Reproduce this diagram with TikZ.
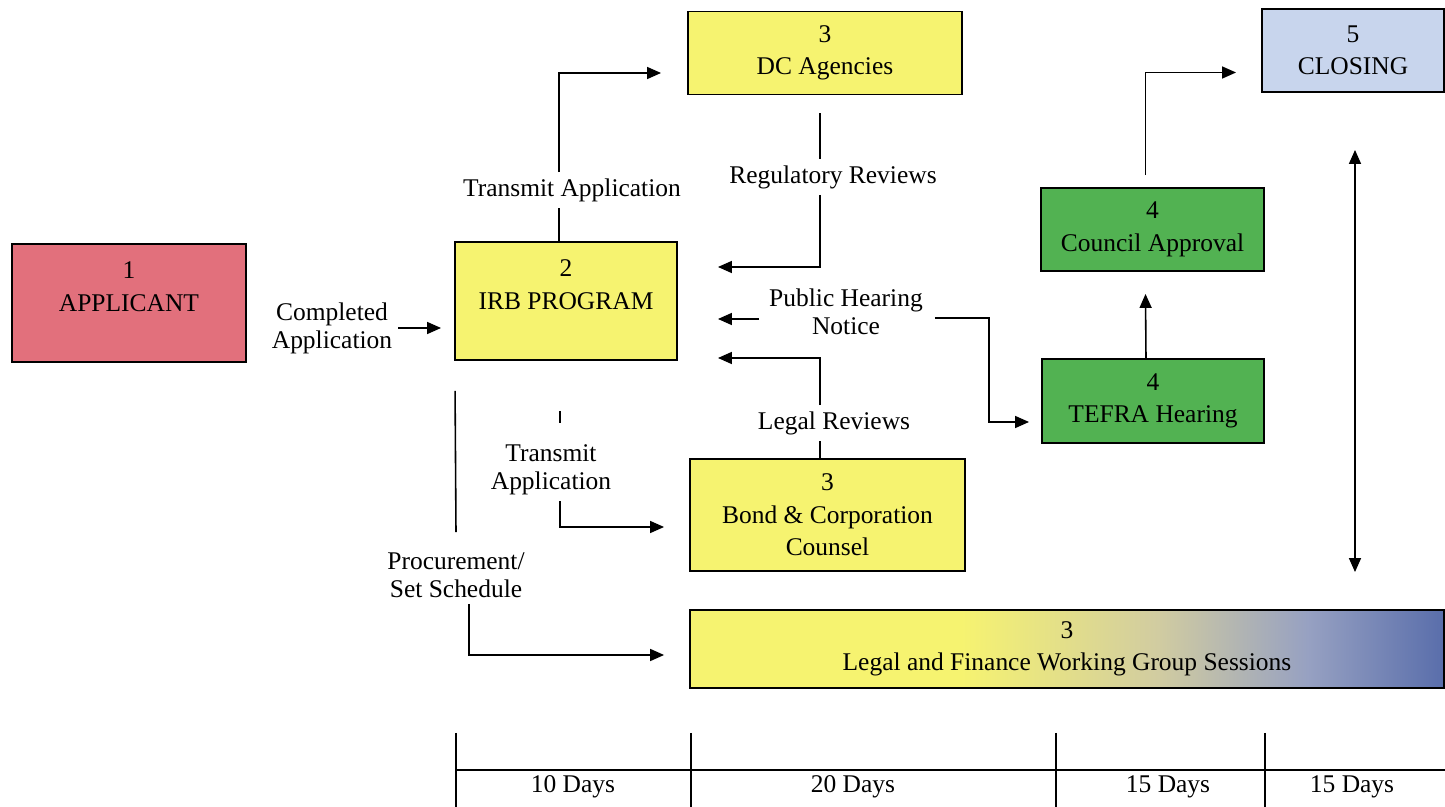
\documentclass[tikz,border=0pt]{standalone}
\usepackage{fontspec}
\setmainfont{Liberation Serif}
\newfontfamily\diagfont{Liberation Serif}
\usetikzlibrary{arrows.meta,calc}

\definecolor{applicantred}{RGB}{226,112,124}
\definecolor{irbyellow}{RGB}{246,243,112}
\definecolor{councilgreen}{RGB}{82,178,82}
\definecolor{closingblue}{RGB}{200,213,237}

\pgfdeclarehorizontalshading{workshade}{100bp}{rgb(0bp)=(0.965,0.953,0.44); rgb(25bp)=(0.965,0.953,0.44); rgb(43bp)=(0.965,0.953,0.44); rgb(56bp)=(0.82,0.80,0.63); rgb(66bp)=(0.59,0.63,0.76); rgb(75bp)=(0.35,0.43,0.67); rgb(100bp)=(0.35,0.43,0.67)}

\newcommand{\bxfont}{\diagfont\fontsize{14.5}{18.5}\selectfont}
\newcommand{\lbfont}{\diagfont\fontsize{14.5}{16}\selectfont}

\tikzset{
  box/.style={draw, line width=1.1pt, align=center, inner sep=0pt, font=\bxfont},
  lbl/.style={align=center, font=\lbfont},
  conn/.style={line width=0.9pt},
  arr/.style={conn, -{Triangle[length=0.28cm,width=0.24cm]}},
  arr2/.style={conn, {Triangle[length=0.28cm,width=0.24cm]}-{Triangle[length=0.28cm,width=0.24cm]}},
}

\begin{document}
\begin{tikzpicture}[x=0.02cm,y=-0.02cm]
\useasboundingbox (0,0) rectangle (1445,807);

% boxes
\node[box, fill=applicantred, minimum width=4.68cm, minimum height=2.36cm] (applicant) at (129,303) {1\\APPLICANT\\\mbox{}};
\node[box, fill=irbyellow, minimum width=4.44cm, minimum height=2.36cm] (irb) at (566,301) {2\\IRB PROGRAM\\\mbox{}};
\node[box, fill=irbyellow, minimum width=5.48cm, minimum height=1.66cm] (dc) at (825,53) {3\\DC Agencies};
\node[box, fill=irbyellow, minimum width=5.5cm, minimum height=2.24cm] (bond) at (827.5,515) {3\\Bond \& Corporation\\Counsel};
\node[box, fill=councilgreen, minimum width=4.46cm, minimum height=1.66cm] (council) at (1152.5,229.5) {4\\Council Approval};
\node[box, fill=councilgreen, minimum width=4.44cm, minimum height=1.68cm] (tefra) at (1153,401) {4\\TEFRA Hearing};
\node[box, fill=closingblue, minimum width=3.64cm, minimum height=1.66cm] (closing) at (1353,50.5) {5\\CLOSING};
\node[box, shading=workshade, minimum width=15.08cm, minimum height=1.56cm] (lfws) at (1067,649) {3\\Legal and Finance Working Group Sessions};

% labels on the connectors
\node[lbl] (compl) at (332,328) {Completed\\Application};
\node[lbl] (trtop) at (572,190) {Transmit Application};
\node[lbl] (regrev) at (833,177) {Regulatory Reviews};
\node[lbl] (phn) at (846,312) {Public Hearing\\Notice};
\node[lbl] (legrev) at (834,423) {Legal Reviews};
\node[lbl] (trlow) at (551,470) {Transmit\\Application};
\node[lbl] (proc) at (456,575) {Procurement/\\Set Schedule};

% connectors
\draw[arr] (compl.east) -- ($(compl.east -| irb.west)+(-13,0)$);

\draw[conn] ($(irb.north)+(-7,0)$) -- ($(trtop.south)+(-13,0)$);
\draw[arr] ($(trtop.north)+(-13,0)$) |- ($(dc.west)+(-26,20)$);

\draw[conn] ($(dc.south)+(-5,18)$) -- ($(regrev.north)+(-13,0)$);
\draw[arr] ($(regrev.south)+(-13,0)$) |- ($(irb.east)+(40,-34)$);

\draw[arr] ($(phn.west)+(-4,7)$) -- ($(irb.east)+(40,18)$);
\draw[arr] ($(phn.east)+(6,6)$) -| ($(tefra.west)+(-52,21)$) -- ($(tefra.west)+(-12,21)$);

\draw[conn] ($(bond.north)+(-7.5,0)$) -- ($(legrev.south)+(-14,0)$);
\draw[arr] ($(legrev.north)+(-14,0)$) |- ($(irb.east)+(40,57)$);

\draw[conn] ($(irb.south)+(-6,50)$) -- ($(irb.south)+(-6,62)$);
\draw[arr] ($(trlow.south)+(9,0)$) |- ($(bond.west)+(-25,12)$);

\draw[conn] ($(irb.south west)+(1,30)$) -- ($(proc.north)+(0,-14)$);
\draw[arr] ($(proc.south)+(13,0)$) |- ($(lfws.west)+(-25,6)$);

\draw[arr] ($(tefra.north)+(-7,0)$) -- ($(council.south)+(-7,22)$);
\draw[arr] ($(council.north)+(-7,-12)$) |- ($(closing.west)+(-25,22)$);

\draw[arr2] ($(closing.south)+(2,57)$) -- ($(lfws.north -| closing.south)+(2,-37)$);

% time line
\draw[line width=1.1pt] (456,770) -- (1445,770);
\foreach \x in {456,691,1056,1265}
  \draw[conn] (\x,733) -- (\x,807);
\foreach \x/\d [count=\k] in {573/10,853/20,1168/15,1352/15}
  \node[lbl] (days\k) at (\x,787) {\d{} Days};

\end{tikzpicture}
\end{document}
